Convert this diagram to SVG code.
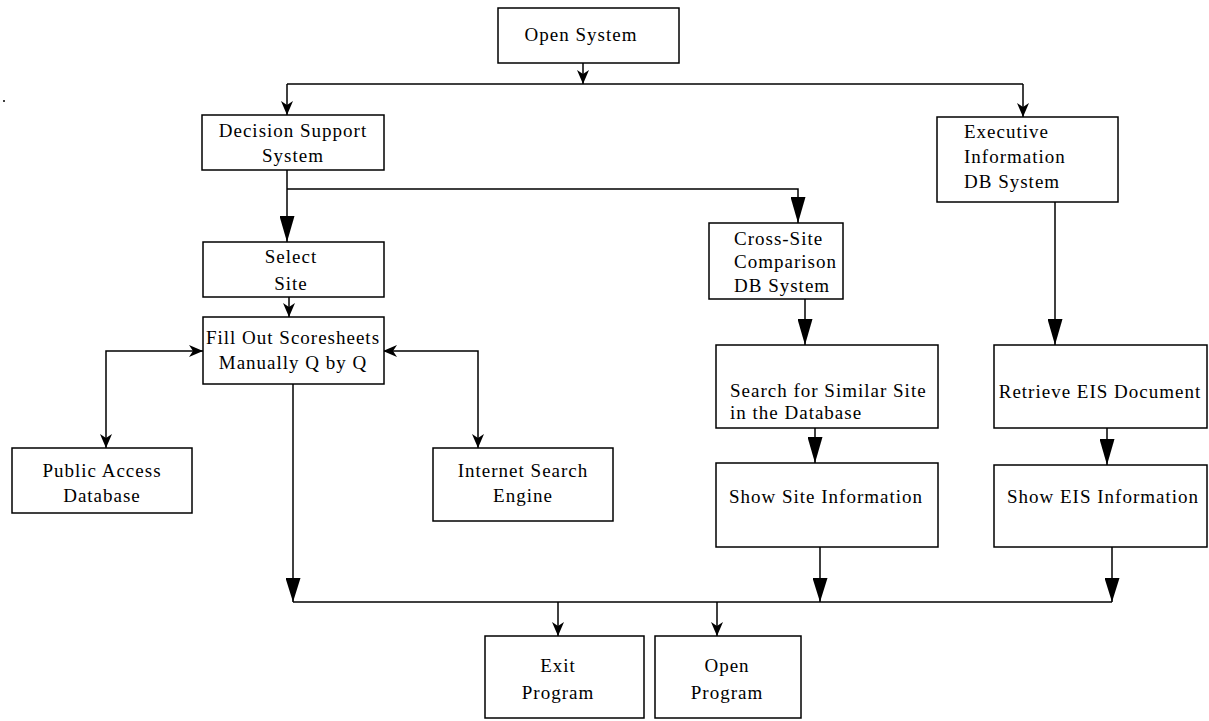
<svg xmlns="http://www.w3.org/2000/svg" width="1209" height="721" viewBox="0 0 1209 721">
  <style>
    .box { fill: #ffffff; stroke: #000000; stroke-width: 1.5; }
    .lbl { font-family: "Liberation Serif", "Times New Roman", serif; font-size: 19px; letter-spacing: 1px; fill: #000000; }
    .c { text-anchor: middle; }
    .wire { fill: none; stroke: #000000; stroke-width: 1.5; }
  </style>
  <defs>
    <!-- long narrow filled head -->
    <marker id="lg" viewBox="0 0 26 15" refX="26" refY="7.5" markerWidth="26" markerHeight="15" markerUnits="userSpaceOnUse" orient="auto">
      <path d="M0,0 L26,7.5 L0,15 z" fill="#000"/>
    </marker>
    <!-- medium filled head -->
    <marker id="md" viewBox="0 0 24 15" refX="24" refY="7.5" markerWidth="24" markerHeight="15" markerUnits="userSpaceOnUse" orient="auto">
      <path d="M0,0 L24,7.5 L0,15 z" fill="#000"/>
    </marker>
    <!-- small head with notched back -->
    <marker id="sm" viewBox="0 0 14 12" refX="14" refY="6" markerWidth="14" markerHeight="12" markerUnits="userSpaceOnUse" orient="auto-start-reverse">
      <path d="M0,0 L14,6 L0,12 L4,6 z" fill="#000"/>
    </marker>
  </defs>

  <circle cx="4" cy="101" r="1" fill="#000"/>

  <g id="connectors">
    <path class="wire" d="M583,63 V84" marker-end="url(#sm)"/>
    <path class="wire" d="M287,84 H1023"/>
    <path class="wire" d="M287,84 V115" marker-end="url(#sm)"/>
    <path class="wire" d="M1023,84 V117" marker-end="url(#sm)"/>
    <path class="wire" d="M287,170 V242" marker-end="url(#lg)"/>
    <path class="wire" d="M287,189 H798 V223" marker-end="url(#lg)"/>
    <path class="wire" d="M289,297 V317" marker-end="url(#sm)"/>
    <path class="wire" d="M203,351 H106 V448" marker-start="url(#sm)" marker-end="url(#sm)"/>
    <path class="wire" d="M383,351 H478 V448" marker-start="url(#sm)" marker-end="url(#sm)"/>
    <path class="wire" d="M293,384 V602" marker-end="url(#md)"/>
    <path class="wire" d="M805,299 V345" marker-end="url(#lg)"/>
    <path class="wire" d="M815,428 V463" marker-end="url(#lg)"/>
    <path class="wire" d="M820,547 V602" marker-end="url(#md)"/>
    <path class="wire" d="M1055,202 V345" marker-end="url(#lg)"/>
    <path class="wire" d="M1107,428 V465" marker-end="url(#lg)"/>
    <path class="wire" d="M1112,547 V602" marker-end="url(#md)"/>
    <path class="wire" d="M293,602 H1112"/>
    <path class="wire" d="M558,602 V636" marker-end="url(#sm)"/>
    <path class="wire" d="M717,602 V636" marker-end="url(#sm)"/>
  </g>

  <g id="open-system">
    <rect class="box" x="498" y="8" width="181" height="55"/>
    <text class="lbl c" x="581" y="41">Open System</text>
  </g>

  <g id="decision-support">
    <rect class="box" x="202" y="115" width="182" height="55"/>
    <text class="lbl c" x="293" y="137">Decision Support</text>
    <text class="lbl c" x="293" y="162">System</text>
  </g>

  <g id="executive-info">
    <rect class="box" x="937" y="117" width="181" height="85"/>
    <text class="lbl" x="964" y="138">Executive</text>
    <text class="lbl" x="964" y="163">Information</text>
    <text class="lbl" x="964" y="188">DB System</text>
  </g>

  <g id="select-site">
    <rect class="box" x="203" y="242" width="181" height="55"/>
    <text class="lbl c" x="291" y="263">Select</text>
    <text class="lbl c" x="291" y="290">Site</text>
  </g>

  <g id="fill-out">
    <rect class="box" x="203" y="317" width="181" height="67"/>
    <text class="lbl c" x="293" y="344">Fill Out Scoresheets</text>
    <text class="lbl c" x="293" y="369">Manually Q by Q</text>
  </g>

  <g id="public-access">
    <rect class="box" x="12" y="448" width="180" height="65"/>
    <text class="lbl c" x="102" y="477">Public Access</text>
    <text class="lbl c" x="102" y="502">Database</text>
  </g>

  <g id="internet-search">
    <rect class="box" x="433" y="448" width="180" height="73"/>
    <text class="lbl c" x="523" y="477">Internet Search</text>
    <text class="lbl c" x="523" y="502">Engine</text>
  </g>

  <g id="cross-site">
    <rect class="box" x="709" y="223" width="134" height="76"/>
    <text class="lbl" x="734" y="245">Cross-Site</text>
    <text class="lbl" x="734" y="268">Comparison</text>
    <text class="lbl" x="734" y="292">DB System</text>
  </g>

  <g id="search-similar">
    <rect class="box" x="716" y="345" width="222" height="83"/>
    <text class="lbl" x="730" y="397">Search for Similar Site</text>
    <text class="lbl" x="730" y="419">in the Database</text>
  </g>

  <g id="show-site">
    <rect class="box" x="716" y="463" width="222" height="84"/>
    <text class="lbl c" x="826" y="503">Show Site Information</text>
  </g>

  <g id="retrieve-eis">
    <rect class="box" x="994" y="345" width="213" height="83"/>
    <text class="lbl c" x="1100" y="398">Retrieve EIS Document</text>
  </g>

  <g id="show-eis">
    <rect class="box" x="994" y="465" width="213" height="82"/>
    <text class="lbl c" x="1103" y="503">Show EIS Information</text>
  </g>

  <g id="exit-program">
    <rect class="box" x="485" y="636" width="159" height="82"/>
    <text class="lbl c" x="558" y="672">Exit</text>
    <text class="lbl c" x="558" y="699">Program</text>
  </g>

  <g id="open-program">
    <rect class="box" x="655" y="636" width="146" height="82"/>
    <text class="lbl c" x="727" y="672">Open</text>
    <text class="lbl c" x="727" y="699">Program</text>
  </g>
</svg>
